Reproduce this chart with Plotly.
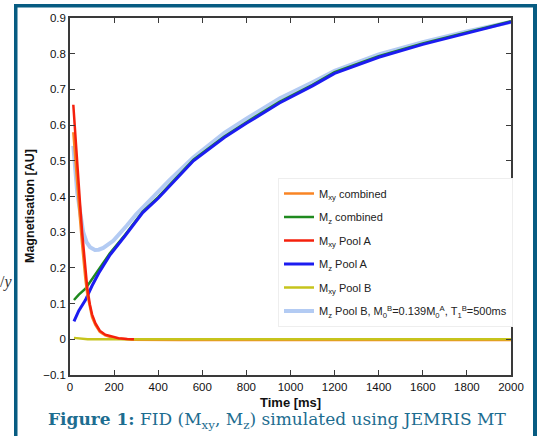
import plotly.graph_objects as go

# ---- data ----
t_mxy_comb = [15, 25, 33, 45, 55, 62, 70, 78, 90, 100, 115, 135, 160, 190, 220, 280, 500, 1000, 1500, 2000]
mxy_comb = [0.58, 0.49, 0.425, 0.34, 0.265, 0.215, 0.168, 0.128, 0.086, 0.062, 0.040, 0.021, 0.011, 0.005, 0.002, -0.001, -0.002, -0.002, -0.002, -0.002]

t_mz_comb = [18, 40, 70, 100, 130, 180, 250, 330, 400, 500, 560, 700, 800, 950, 1100, 1200, 1400, 1600, 1800, 2000]
mz_comb = [0.11, 0.125, 0.142, 0.168, 0.197, 0.240, 0.293, 0.358, 0.398, 0.463, 0.503, 0.568, 0.608, 0.665, 0.713, 0.748, 0.793, 0.829, 0.861, 0.891]

t_mxy_a = [15, 25, 33, 45, 55, 62, 70, 78, 90, 100, 115, 135, 160, 190, 220, 260, 290]
mxy_a = [0.657, 0.56, 0.48, 0.385, 0.30, 0.245, 0.19, 0.145, 0.098, 0.07, 0.045, 0.024, 0.013, 0.007, 0.003, 0.001, 0.0]

t_mz_a = [18, 40, 70, 100, 130, 180, 250, 330, 400, 500, 560, 700, 800, 950, 1100, 1200, 1400, 1600, 1800, 2000]
mz_a = [0.05, 0.08, 0.11, 0.15, 0.185, 0.235, 0.29, 0.355, 0.395, 0.46, 0.50, 0.565, 0.605, 0.662, 0.71, 0.745, 0.79, 0.826, 0.858, 0.889]

t_mxy_b = [18, 40, 60, 80, 500, 1000, 1500, 2000]
mxy_b = [0.004, 0.003, 0.001, 0.0, 0.0, 0.0, 0.0, 0.0]

t_mz_b = [15, 25, 33, 45, 60, 75, 91, 113, 130, 151, 196, 257, 300, 363, 450, 559, 700, 800, 952, 1100, 1200, 1400, 1600, 1800, 2000]
mz_b = [0.542, 0.47, 0.41, 0.36, 0.30, 0.272, 0.258, 0.250, 0.251, 0.256, 0.276, 0.318, 0.350, 0.39, 0.445, 0.509, 0.578, 0.618, 0.675, 0.72, 0.752, 0.798, 0.832, 0.862, 0.889]

x_ticks = [0, 200, 400, 600, 800, 1000, 1200, 1400, 1600, 1800, 2000]
y_ticks = [-0.1, 0, 0.1, 0.2, 0.3, 0.4, 0.5, 0.6, 0.7, 0.8, 0.9]

names = {
    "mxy_comb": "M<sub>xy</sub> combined",
    "mz_comb": "M<sub>z</sub> combined",
    "mxy_a": "M<sub>xy</sub> Pool A",
    "mz_a": "M<sub>z</sub> Pool A",
    "mxy_b": "M<sub>xy</sub> Pool B",
    "mz_b": "M<sub>z</sub> Pool B, M<sub>0</sub><sup>B</sup>=0.139M<sub>0</sub><sup>A</sup>, T<sub>1</sub><sup>B</sup>=500ms",
}

fig = go.Figure()

def add(x, y, key, color, width, rank):
    fig.add_trace(go.Scatter(
        x=x, y=y, mode="lines", name=names[key],
        line=dict(color=color, width=width),
        legendrank=rank, legendgroup=key,
    ))

# drawing order (bottom -> top)
add(t_mz_b, mz_b, "mz_b", "#b3cbf3", 4, 6)
add(t_mz_comb, mz_comb, "mz_comb", "#1f8a1f", 2.5, 2)
add(t_mz_a, mz_a, "mz_a", "#1c1cf0", 3, 4)
add(t_mxy_comb, mxy_comb, "mxy_comb", "#f98424", 2.5, 1)
add(t_mxy_b, mxy_b, "mxy_b", "#c6c41c", 2.5, 5)
add(t_mxy_a, mxy_a, "mxy_a", "#f5200c", 2.5, 3)

L, R, T, B = 70, 31, 18, 61
W, H = 542, 436
pw, ph = W - L - R, H - T - B

def px(xp):
    return (xp - L) / pw

def py(yp):
    return (H - B - yp) / ph

frame_col = "#075c82"
shapes = [
    dict(type="rect", xref="paper", yref="paper", x0=px(14), x1=px(17.5), y0=py(436), y1=py(4), fillcolor=frame_col, line=dict(width=0), layer="above"),
    dict(type="rect", xref="paper", yref="paper", x0=px(14), x1=px(537), y0=py(7.5), y1=py(4), fillcolor=frame_col, line=dict(width=0), layer="above"),
    dict(type="rect", xref="paper", yref="paper", x0=px(533), x1=px(537), y0=py(436), y1=py(4), fillcolor=frame_col, line=dict(width=0), layer="above"),
]

axis_common = dict(
    showline=True, linecolor="#3a3a3a", linewidth=1.5, mirror="ticks",
    ticks="inside", ticklen=5, tickcolor="#3a3a3a", tickwidth=1,
    showgrid=False, zeroline=False,
    tickfont=dict(family="Liberation Sans, Arial", size=11.5, color="#111"),
)

title_font = dict(family="Liberation Sans, Arial", size=13, color="#111")

fig.update_layout(
    width=W, height=H,
    margin=dict(l=L, r=R, t=T, b=B),
    paper_bgcolor="white", plot_bgcolor="white",
    xaxis=dict(range=[0, 2000], tickvals=x_ticks, **axis_common),
    yaxis=dict(range=[-0.1, 0.9], tickvals=y_ticks, **axis_common),
    legend=dict(x=px(278), y=py(178), xanchor="left", yanchor="top",
                bgcolor="white", bordercolor="#eeeeee", borderwidth=1,
                font=dict(family="Liberation Sans, Arial", size=11, color="#222"),
                itemwidth=30, tracegroupgap=4.5, traceorder="grouped"),
    shapes=shapes,
    showlegend=True,
    annotations=[
        dict(xref="paper", yref="paper", x=px(290), y=py(402), xanchor="center", yanchor="middle",
             showarrow=False, text="<b>Time [ms]</b>", font=title_font),
        dict(xref="paper", yref="paper", x=px(30), y=py(206), xanchor="center", yanchor="middle",
             showarrow=False, textangle=-90, text="<b>Magnetisation [AU]</b>",
             font=dict(family="Liberation Sans, Arial", size=12.5, color="#111")),
        dict(xref="paper", yref="paper", x=px(277), y=py(420), xanchor="center", yanchor="middle",
             showarrow=False,
             text="<b>Figure 1:</b> FID (M<sub>xy</sub>, M<sub>z</sub>) simulated using JEMRIS MT",
             font=dict(family="DejaVu Serif, serif", size=17, color="#1d6d90")),
        dict(xref="paper", yref="paper", x=px(6), y=py(282), xanchor="center", yanchor="middle",
             showarrow=False, text="/<i>y</i>",
             font=dict(family="Liberation Serif, serif", size=16, color="#333")),
    ],
)

fig.write_html("out.html", config={"displayModeBar": False},
               post_script="document.body.style.margin='0';document.body.style.overflow='hidden';")
